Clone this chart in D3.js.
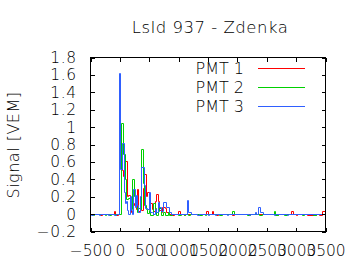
<!DOCTYPE html>
<html>
<head>
<meta charset="utf-8">
<script src="https://cdn.jsdelivr.net/npm/d3@7"></script>
<style>
  body { margin: 0; background: #fff; }
  text { font-family: "DejaVu Sans", sans-serif; font-weight: 200; fill: #000; letter-spacing: 0.5px; }
</style>
</head>
<body>
<div id="chart"><svg></svg></div>
<script>
// step traces, value holds from each time until the next one
var pmt1Times = [-500, -325, -300, -100, -75, -50, -25, -5, 20, 45, 60, 100, 125, 150, 175, 200, 225, 250, 275, 300, 325, 350, 375, 400, 425, 450, 475, 500, 525, 550, 575, 600, 625, 650, 675, 700, 725, 775, 800, 850, 900, 925, 1000, 1025, 1100, 1125, 1475, 1500, 1575, 1600, 1650, 1675, 1925, 1950, 2650, 2700, 2925, 2950, 3000, 3025, 3200, 3350, 3400, 3450, 3500];
var pmt1Values = [0, -0.02, 0, 0.03, 0, -0.02, 0, 0.52, 0.8, 0.5, 0.43, 0.61, 0.2, 0.21, 0.05, 0.02, 0.12, 0.1, 0.05, 0.28, 0.03, 0.08, 0.04, 0.3, 0.45, 0.2, 0.25, 0.05, 0.12, 0.05, 0.03, 0.15, 0.23, 0.15, 0.04, 0.02, 0.08, 0.07, 0.02, 0, -0.02, 0, 0.03, 0, -0.02, 0, 0.03, 0, 0.03, 0, -0.02, 0, -0.02, 0, -0.02, 0, 0.03, 0, -0.02, 0, -0.02, 0, -0.02, 0.03, 0.03];

var pmt2Times = [-500, -450, -425, -250, -225, -175, -150, -75, -50, 25, 60, 100, 115, 150, 175, 200, 215, 255, 275, 300, 325, 350, 370, 395, 425, 450, 475, 500, 525, 575, 600, 625, 650, 675, 700, 750, 775, 825, 850, 900, 1000, 1050, 1100, 1125, 1175, 1200, 1350, 1400, 1450, 1475, 1700, 1750, 1925, 1950, 2175, 2225, 2375, 2425, 2625, 2650, 2700, 2800, 2850, 3100, 3150, 3300, 3350, 3500];
var pmt2Values = [0, -0.02, 0, -0.02, 0, -0.02, 0, -0.02, 0, 1.04, 0.68, 0.4, 0.17, 0.18, 0.08, 0.05, 0.4, 0.2, 0.08, 0.02, 0.06, 0.05, 0.74, 0.35, 0.1, 0.05, 0.01, 0.04, -0.02, 0.12, 0.06, -0.02, 0.03, 0.06, -0.02, 0.02, -0.02, 0.02, -0.02, 0, -0.02, 0, -0.02, 0, -0.02, 0, -0.02, 0, -0.02, 0, -0.02, 0, 0.03, 0, -0.02, 0, -0.02, 0, 0.03, -0.02, 0, -0.02, 0, -0.02, 0, -0.02, 0, 0];

var pmt3Times = [-500, -475, -450, -350, -325, -200, -175, -100, -50, -10, 15, 40, 75, 100, 115, 130, 150, 175, 200, 215, 240, 265, 280, 300, 325, 350, 375, 415, 440, 475, 500, 525, 550, 575, 600, 625, 650, 675, 700, 750, 800, 850, 875, 1150, 1175, 1225, 1325, 1350, 1500, 1525, 1625, 1650, 1825, 1850, 2200, 2225, 2300, 2325, 2365, 2390, 2450, 2625, 2650, 2850, 2875, 3500];
var pmt3Values = [0, -0.02, 0, -0.02, 0, -0.02, 0, -0.02, 0, 1.62, 0.51, 0.81, 0.25, 0.12, 0.15, 0.04, 0, 0.2, 0.04, 0, 0.28, 0.08, 0.21, 0.1, 0.02, 0.2, 0.54, 0.33, 0.06, 0.05, 0.25, 0.02, 0.02, 0, 0.05, 0.02, 0.13, 0.08, 0.03, 0.13, 0.08, 0.02, 0, 0.16, 0.02, 0, -0.02, 0, -0.02, 0, -0.02, 0, -0.02, 0, -0.02, 0, 0.02, 0, 0.08, 0.02, 0, -0.02, 0, -0.02, 0, 0];

var seriesNames = ["PMT 1", "PMT 2", "PMT 3"];
var seriesColors = ["#ff0000", "#00d000", "#2f5fff"];
var xTicks = [-500, 0, 500, 1000, 1500, 2000, 2500, 3000, 3500];
var yTicks = [-0.2, 0, 0.2, 0.4, 0.6, 0.8, 1, 1.2, 1.4, 1.6, 1.8];

var series = [
  { name: seriesNames[0], times: pmt1Times, values: pmt1Values },
  { name: seriesNames[1], times: pmt2Times, values: pmt2Values },
  { name: seriesNames[2], times: pmt3Times, values: pmt3Values }
];

var owidth = 360, oheight = 270;
var margin = { top: 57.5, right: 34.5, bottom: 38.5, left: 90.5 },
    width = owidth - margin.left - margin.right,
    height = oheight - margin.top - margin.bottom;

var svg = d3.select("#chart").select("svg")
    .attr("width", owidth)
    .attr("height", oheight);

var g = svg.append("g")
    .attr("transform", "translate(" + margin.left + "," + margin.top + ")");

var xScale = d3.scaleLinear().domain([-500, 3500]).range([0, width]);
var yScale = d3.scaleLinear().domain([-0.2, 1.8]).range([height, 0]);

g.append("clipPath").attr("id", "clip")
    .append("rect").attr("x", -1).attr("y", -1).attr("width", width + 2).attr("height", height + 2);

// snap to whole pixels so the 1px steps stay sharp
var line = d3.line()
    .curve(d3.curveStepAfter)
    .x(function (d) { return Math.round(xScale(d[0])); })
    .y(function (d) { return Math.round(yScale(d[1])); });

g.selectAll(".trace")
    .data(series)
    .enter().append("path")
    .attr("class", "trace")
    .attr("clip-path", "url(#clip)")
    .attr("fill", "none")
    .attr("stroke-width", 1)
    .attr("stroke", function (d, i) { return seriesColors[i]; })
    .attr("d", function (d) { return line(d.times.map(function (t, i) { return [t, d.values[i]]; })); });

// axes, ticks pointing inwards and mirrored like gnuplot
var tickLen = 4;
g.append("g")
    .attr("class", "xaxis")
    .attr("transform", "translate(0," + height + ")")
    .call(d3.axisBottom(xScale).tickValues(xTicks).tickSizeInner(-tickLen).tickSizeOuter(0).tickPadding(13).tickFormat(d3.format("d")));
g.append("g")
    .call(d3.axisTop(xScale).tickValues(xTicks).tickSizeInner(-tickLen).tickSizeOuter(0).tickFormat(""));
g.append("g")
    .call(d3.axisLeft(yScale).tickValues(yTicks).tickSizeInner(-tickLen).tickSizeOuter(0).tickPadding(14).tickFormat(function (d) { return d3.format("")(Math.round(d * 10) / 10); }));
g.append("g")
    .attr("transform", "translate(" + width + ",0)")
    .call(d3.axisRight(yScale).tickValues(yTicks).tickSizeInner(-tickLen).tickSizeOuter(0).tickFormat(""));

g.selectAll(".domain").remove();
g.selectAll(".tick line").attr("stroke", "#000").attr("shape-rendering", "crispEdges");
g.selectAll(".tick text")
    .style("font-family", "DejaVu Sans, sans-serif")
    .style("font-weight", "200")
    .style("font-size", "15.5px")
    .attr("fill", "#000");
g.select(".xaxis").selectAll(".tick text")
    .style("letter-spacing", "0px");

g.append("rect")
    .attr("width", width)
    .attr("height", height)
    .attr("fill", "none")
    .attr("shape-rendering", "crispEdges")
    .attr("stroke", "#000");

// legend
var legend = g.selectAll(".legend")
    .data(series)
    .enter().append("g")
    .attr("class", "legend")
    .attr("transform", function (d, i) { return "translate(0," + (10.5 + i * 19) + ")"; });
legend.append("text")
    .attr("x", 153.5)
    .attr("y", 5.5)
    .attr("text-anchor", "end")
    .style("font-size", "16px")
    .style("letter-spacing", "0px")
    .text(function (d) { return d.name; });
legend.append("line")
    .attr("x1", 167.5).attr("x2", 214.5)
    .attr("shape-rendering", "crispEdges")
    .attr("stroke", function (d, i) { return seriesColors[i]; });

svg.append("text")
    .attr("x", 210)
    .attr("y", 33)
    .attr("text-anchor", "middle")
    .style("font-size", "16.5px")
    .text("LsId 937 - Zdenka");

svg.append("text")
    .attr("transform", "translate(19,145) rotate(-90)")
    .attr("text-anchor", "middle")
    .style("font-size", "16px")
    .text("Signal [VEM]");
</script>
</body>
</html>
